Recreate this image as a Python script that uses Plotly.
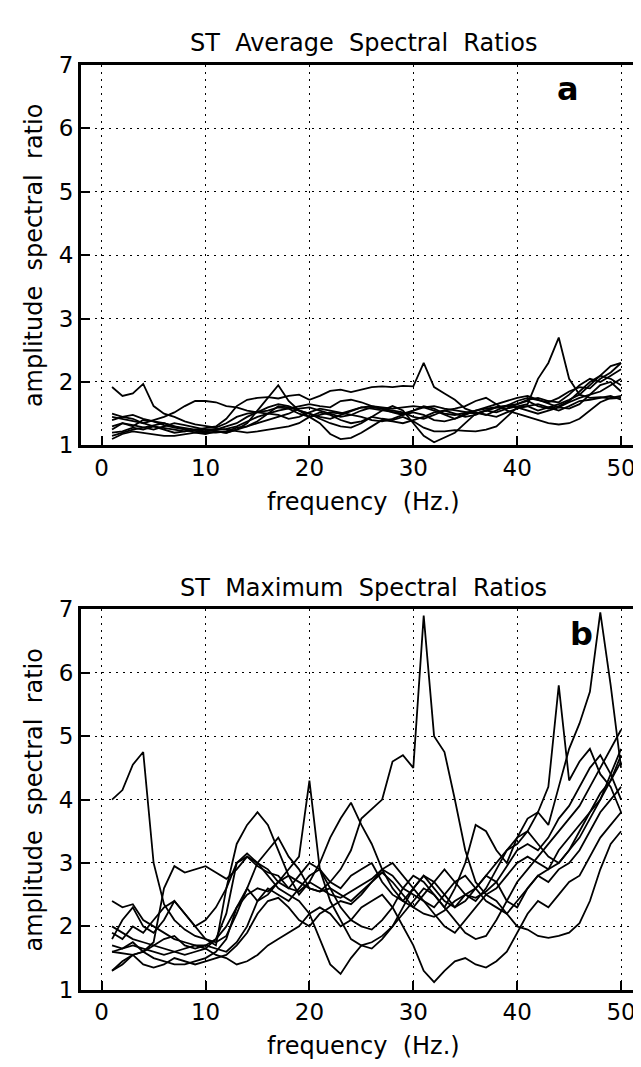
import plotly.graph_objects as go

# ---------------- data ----------------
freq = [1, 2, 3, 4, 5, 6, 7, 8, 9, 10,
        11, 12, 13, 14, 15, 16, 17, 18, 19, 20,
        21, 22, 23, 24, 25, 26, 27, 28, 29, 30,
        31, 32, 33, 34, 35, 36, 37, 38, 39, 40,
        41, 42, 43, 44, 45, 46, 47, 48, 49, 50]

avg_ratios = {
    "A": [1.92, 1.78, 1.82, 1.97, 1.62, 1.50, 1.45, 1.38, 1.33, 1.30,
          1.28, 1.35, 1.45, 1.50, 1.52, 1.55, 1.60, 1.58, 1.50, 1.45,
          1.48, 1.52, 1.50, 1.55, 1.60, 1.58, 1.55, 1.52, 1.50, 1.55,
          1.62, 1.58, 1.50, 1.48, 1.52, 1.55, 1.58, 1.60, 1.62, 1.65,
          1.72, 1.75, 1.70, 1.68, 1.80, 1.95, 2.05, 2.00, 2.10, 2.20],
    "B": [1.45, 1.42, 1.38, 1.35, 1.30, 1.28, 1.25, 1.22, 1.25, 1.28,
          1.30, 1.42, 1.62, 1.72, 1.75, 1.76, 1.74, 1.78, 1.80, 1.72,
          1.78, 1.86, 1.88, 1.84, 1.88, 1.92, 1.93, 1.92, 1.94, 1.93,
          2.30, 1.92, 1.82, 1.72, 1.58, 1.52, 1.48, 1.55, 1.62, 1.70,
          1.75, 1.72, 1.68, 1.75, 1.85, 1.92, 1.90, 2.05, 2.15, 2.30],
    "C": [1.30, 1.35, 1.32, 1.28, 1.25, 1.30, 1.35, 1.32, 1.28, 1.25,
          1.22, 1.20, 1.25, 1.30, 1.38, 1.50, 1.62, 1.60, 1.55, 1.50,
          1.45, 1.42, 1.48, 1.55, 1.60, 1.62, 1.60, 1.58, 1.60, 1.62,
          1.60, 1.62, 1.58, 1.55, 1.52, 1.50, 1.55, 1.60, 1.58, 1.62,
          1.65, 2.05, 2.30, 2.70, 2.05, 1.80, 1.75, 1.76, 1.74, 1.75],
    "D": [1.25, 1.35, 1.30, 1.40, 1.38, 1.35, 1.30, 1.28, 1.25, 1.22,
          1.25, 1.30, 1.35, 1.45, 1.52, 1.60, 1.65, 1.62, 1.55, 1.50,
          1.42, 1.35, 1.30, 1.28, 1.35, 1.45, 1.55, 1.62, 1.55, 1.35,
          1.15, 1.05, 1.12, 1.20, 1.35, 1.50, 1.55, 1.52, 1.58, 1.65,
          1.70, 1.62, 1.58, 1.62, 1.70, 1.85, 2.00, 2.10, 2.05, 1.95],
    "E": [1.20, 1.22, 1.28, 1.25, 1.30, 1.25, 1.20, 1.22, 1.25, 1.25,
          1.26, 1.25, 1.22, 1.20, 1.22, 1.25, 1.28, 1.30, 1.35, 1.45,
          1.52, 1.48, 1.40, 1.35, 1.38, 1.45, 1.42, 1.40, 1.45, 1.38,
          1.28, 1.22, 1.22, 1.24, 1.23, 1.22, 1.25, 1.30, 1.45, 1.60,
          1.62, 1.55, 1.60, 1.65, 1.72, 1.80, 1.95, 2.10, 2.25, 2.30],
    "F": [1.15, 1.20, 1.25, 1.28, 1.32, 1.35, 1.30, 1.25, 1.20, 1.18,
          1.22, 1.20, 1.25, 1.35, 1.55, 1.75, 1.95, 1.70, 1.55, 1.45,
          1.35, 1.18, 1.10, 1.12, 1.20, 1.30, 1.40, 1.38, 1.35, 1.40,
          1.45, 1.52, 1.55, 1.50, 1.45, 1.48, 1.55, 1.60, 1.62, 1.60,
          1.55, 1.50, 1.55, 1.60, 1.58, 1.65, 1.80, 1.95, 2.00, 1.85],
    "G": [1.50, 1.45, 1.42, 1.35, 1.40, 1.45, 1.52, 1.62, 1.70, 1.70,
          1.68, 1.62, 1.60, 1.55, 1.52, 1.50, 1.55, 1.58, 1.62, 1.65,
          1.62, 1.60, 1.70, 1.72, 1.68, 1.62, 1.58, 1.55, 1.52, 1.45,
          1.42, 1.48, 1.55, 1.58, 1.62, 1.70, 1.75, 1.65, 1.55, 1.50,
          1.45, 1.40, 1.35, 1.33, 1.35, 1.42, 1.55, 1.68, 1.75, 1.78],
    "H": [1.40, 1.45, 1.48, 1.42, 1.38, 1.32, 1.28, 1.25, 1.22, 1.20,
          1.20, 1.22, 1.28, 1.30, 1.35, 1.40, 1.45, 1.50, 1.58, 1.60,
          1.55, 1.50, 1.45, 1.48, 1.55, 1.60, 1.58, 1.52, 1.48, 1.55,
          1.60, 1.55, 1.48, 1.42, 1.48, 1.55, 1.60, 1.65, 1.70, 1.75,
          1.78, 1.72, 1.65, 1.60, 1.68, 1.75, 1.80, 1.85, 1.95, 2.05],
    "I": [1.10, 1.18, 1.22, 1.20, 1.18, 1.15, 1.15, 1.18, 1.20, 1.22,
          1.24, 1.26, 1.30, 1.38, 1.45, 1.50, 1.48, 1.42, 1.45, 1.52,
          1.58, 1.55, 1.52, 1.48, 1.45, 1.40, 1.38, 1.42, 1.48, 1.52,
          1.48, 1.40, 1.38, 1.42, 1.50, 1.52, 1.48, 1.45, 1.52, 1.58,
          1.62, 1.65, 1.60, 1.55, 1.62, 1.70, 1.72, 1.75, 1.78, 1.72],
}

max_ratios = {
    "A": [4.00, 4.15, 4.55, 4.75, 3.00, 2.35, 2.10, 1.95, 1.85, 1.80,
          1.75, 1.85, 2.20, 2.60, 3.00, 3.20, 3.40, 3.10, 2.90, 2.60,
          2.55, 2.60, 2.50, 2.40, 2.55, 2.70, 2.85, 2.70, 2.50, 2.30,
          2.20, 2.15, 2.25, 2.40, 2.50, 2.45, 2.55, 2.70, 2.95, 3.20,
          3.30, 3.20, 3.40, 3.70, 3.90, 4.20, 4.50, 4.70, 4.40, 4.00],
    "B": [1.60, 1.65, 1.70, 1.65, 1.60, 1.55, 1.60, 1.65, 1.70, 1.65,
          1.80, 2.00, 2.30, 2.50, 2.60, 2.55, 2.70, 2.80, 2.70, 2.60,
          2.55, 2.70, 2.90, 3.20, 3.70, 3.85, 4.00, 4.60, 4.70, 4.50,
          6.90, 5.00, 4.75, 4.00, 3.20, 2.70, 2.50, 2.60, 2.80, 3.00,
          3.10, 3.00, 2.90, 3.20, 3.40, 3.60, 3.80, 4.00, 4.30, 4.60],
    "C": [1.90, 1.80, 2.00, 1.90, 2.10, 2.30, 2.40, 2.20, 2.00, 2.10,
          2.30, 2.60, 3.00, 3.10, 3.00, 2.90, 2.70, 2.60, 2.80, 3.00,
          2.90, 2.70, 2.60, 2.80, 2.90, 3.00, 2.70, 2.50, 2.40, 2.60,
          2.80, 2.60, 2.40, 2.30, 2.50, 2.60, 2.80, 3.00, 3.20, 3.30,
          3.50, 3.80, 3.60, 4.20, 4.80, 5.20, 5.70, 6.95, 5.80, 4.50],
    "D": [2.40, 2.30, 2.35, 2.10, 2.00, 1.90, 1.80, 1.75, 1.70, 1.70,
          1.65, 1.60, 1.75, 2.00, 2.40, 2.60, 2.50, 2.40, 2.60, 2.80,
          2.90, 2.60, 2.30, 2.10, 2.00, 1.95, 2.10, 2.30, 2.60, 2.80,
          2.70, 2.50, 2.30, 2.60, 3.00, 3.60, 3.50, 3.20, 3.00, 3.40,
          3.70, 3.80, 4.20, 5.80, 4.30, 4.60, 4.80, 4.40, 4.20, 3.80],
    "E": [1.30, 1.40, 1.55, 1.60, 1.50, 1.45, 1.40, 1.40, 1.45, 1.50,
          1.60, 1.80, 2.30, 2.60, 2.40, 2.50, 2.70, 2.90, 3.10, 4.30,
          2.90, 2.40, 2.10, 1.80, 1.70, 1.75, 1.85, 2.00, 2.20, 2.40,
          2.60, 2.50, 2.30, 2.10, 1.90, 1.80, 1.85, 2.10, 2.40, 2.70,
          2.90, 3.10, 3.30, 3.50, 3.70, 3.90, 4.20, 4.50, 4.80, 5.10],
    "F": [1.80, 2.10, 2.30, 2.00, 1.90, 2.10, 2.40, 2.20, 2.00, 1.80,
          1.70, 2.60, 3.30, 3.60, 3.80, 3.60, 3.20, 2.80, 2.50, 2.70,
          3.00, 3.40, 3.70, 3.95, 3.60, 3.30, 2.90, 2.60, 2.40, 2.30,
          2.50, 2.70, 2.90, 2.70, 2.50, 2.40, 2.60, 2.90, 3.20, 3.40,
          3.50, 3.30, 3.10, 3.00, 3.20, 3.50, 3.80, 4.10, 4.30, 4.70],
    "G": [1.60, 1.58, 1.55, 1.60, 1.75, 2.60, 2.95, 2.85, 2.90, 2.95,
          2.85, 2.75, 2.90, 3.10, 2.95, 2.85, 2.80, 2.60, 2.55, 2.70,
          2.60, 2.50, 2.45, 2.55, 2.65, 2.75, 2.90, 2.80, 2.60, 2.50,
          2.40, 2.20, 2.00, 1.90, 2.10, 2.30, 2.50, 2.40, 2.20, 2.00,
          1.95, 1.85, 1.82, 1.85, 1.90, 2.05, 2.40, 2.90, 3.30, 3.50],
    "H": [1.70, 1.65, 1.75, 1.60, 1.70, 1.80, 1.85, 1.70, 1.65, 1.70,
          1.80, 2.20, 3.00, 3.15, 3.00, 2.80, 2.60, 2.50, 2.40, 2.20,
          1.80, 1.40, 1.25, 1.50, 1.70, 1.65, 1.80, 2.00, 2.30, 2.60,
          2.80, 2.70, 2.50, 2.30, 2.40, 2.60, 2.80, 2.70, 2.40, 2.30,
          2.60, 2.80, 2.70, 2.90, 3.00, 3.20, 3.50, 3.80, 4.00, 4.20],
    "I": [2.00, 1.90, 1.80, 1.75, 1.70, 1.65, 1.60, 1.55, 1.60, 1.65,
          1.55, 1.50, 1.40, 1.45, 1.55, 1.70, 1.80, 1.90, 2.00, 2.20,
          2.30, 2.20, 2.00, 2.10, 2.30, 2.40, 2.50, 2.30, 2.00, 1.70,
          1.30, 1.12, 1.30, 1.45, 1.50, 1.40, 1.35, 1.45, 1.60, 1.90,
          2.20, 2.40, 2.30, 2.50, 2.70, 2.80, 3.10, 3.40, 3.60, 3.80],
    "J": [1.30, 1.45, 1.55, 1.40, 1.35, 1.40, 1.50, 1.45, 1.40, 1.45,
          1.50, 1.55, 1.70, 1.90, 2.20, 2.40, 2.45, 2.30, 2.10, 2.00,
          2.20, 2.30, 2.40, 2.35, 2.50, 2.70, 2.90, 3.00, 2.80, 2.60,
          2.40, 2.30, 2.50, 2.70, 2.80, 2.60, 2.40, 2.30, 2.20, 2.40,
          2.60, 2.80, 2.90, 3.00, 3.20, 3.40, 3.70, 4.00, 4.40, 4.80],
}

x_ticks = [0, 10, 20, 30, 40, 50]
y_ticks = [1, 2, 3, 4, 5, 6, 7]
titles = ["ST\u00a0 Average\u00a0 Spectral\u00a0 Ratios",
          "ST\u00a0 Maximum\u00a0 Spectral\u00a0 Ratios"]
panel_letters = ["a", "b"]
x_label = "frequency\u00a0 (Hz.)"
y_label = "amplitude\u00a0 spectral\u00a0 ratio"

# ---------------- figure ----------------
W, H = 641, 1067
FONT = "DejaVu Sans"
fig = go.Figure()

for name, vals in avg_ratios.items():
    fig.add_trace(go.Scatter(x=freq, y=vals, mode="lines", xaxis="x", yaxis="y",
                             line=dict(color="black", width=1.8), showlegend=False,
                             hoverinfo="skip"))
for name, vals in max_ratios.items():
    fig.add_trace(go.Scatter(x=freq, y=vals, mode="lines", xaxis="x2", yaxis="y2",
                             line=dict(color="black", width=1.8), showlegend=False,
                             hoverinfo="skip"))

xdom = [73 / W, 639 / W]
ydom_top = [1 - 435 / H, 1 - 45 / H]
ydom_bot = [1 - 993 / H, 1 - 603 / H]

xa = dict(range=[-2.0, 52.4], tickmode="array", tickvals=x_ticks,
          ticks="inside", ticklen=9, tickwidth=1.5, tickcolor="black",
          showline=True, linewidth=3, linecolor="black", mirror=True,
          showgrid=True, gridcolor="black", gridwidth=1.2, griddash="2px,5px",
          zeroline=False, tickfont=dict(family=FONT, size=23, color="black"),
          domain=xdom, fixedrange=True)
ya = dict(range=[1, 7], tickmode="array", tickvals=y_ticks,
          ticks="inside", ticklen=9, tickwidth=1.5, tickcolor="black",
          showline=True, linewidth=3, linecolor="black", mirror=True,
          showgrid=True, gridcolor="black", gridwidth=1.2, griddash="2px,5px",
          zeroline=False, tickfont=dict(family=FONT, size=23, color="black"),
          fixedrange=True)

fig.update_layout(
    width=W, height=H,
    margin=dict(l=0, r=0, t=0, b=0),
    paper_bgcolor="white", plot_bgcolor="white",
    xaxis=dict(xa, anchor="y"),
    yaxis=dict(ya, domain=ydom_top, anchor="x"),
    xaxis2=dict(xa, anchor="y2"),
    yaxis2=dict(ya, domain=ydom_bot, anchor="x2"),
)

ann = []
letter_pos = [(561, 70), (574, 628)]
for i, (ytop, ybot) in enumerate([(45, 435), (603, 993)]):
    cx = (73 + 639) / 2
    ann.append(dict(text=titles[i], x=cx / W, y=1 - (ytop - 22) / H,
                    xref="paper", yref="paper", showarrow=False,
                    xanchor="center", yanchor="middle",
                    font=dict(family=FONT, size=24, color="black")))
    ann.append(dict(text=x_label, x=cx / W, y=1 - (ybot + 58) / H,
                    xref="paper", yref="paper", showarrow=False,
                    xanchor="center", yanchor="middle",
                    font=dict(family=FONT, size=24, color="black")))
    ann.append(dict(text=y_label, x=26 / W, y=1 - ((ytop + ybot) / 2) / H,
                    xref="paper", yref="paper", showarrow=False, textangle=-90,
                    xanchor="center", yanchor="middle",
                    font=dict(family=FONT, size=24, color="black")))
    lx, ly = letter_pos[i]
    ann.append(dict(text="<b>" + panel_letters[i] + "</b>", x=lx / W,
                    y=1 - ly / H,
                    xref="paper", yref="paper", showarrow=False,
                    xanchor="center", yanchor="middle",
                    font=dict(family=FONT, size=32, color="black")))
fig.update_layout(annotations=ann)

fig.write_html("out.html")
